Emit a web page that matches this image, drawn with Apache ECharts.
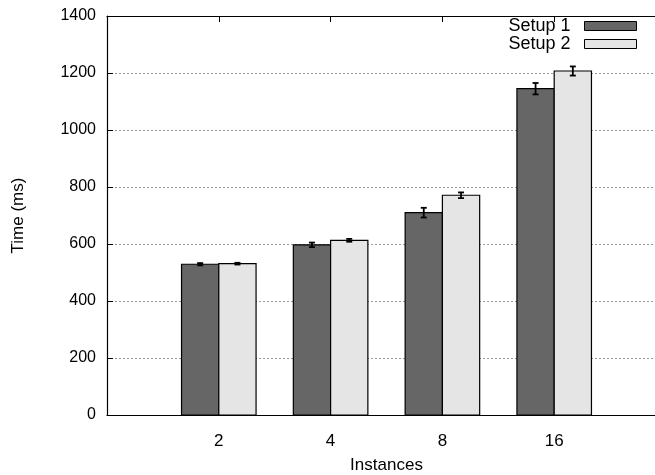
<!DOCTYPE html>
<html>
<head>
<meta charset="utf-8">
<script src="https://cdn.jsdelivr.net/npm/echarts@6/dist/echarts.min.js"></script>
<style>html,body{margin:0;padding:0;background:#fff;overflow:hidden;width:655px;height:475px}#c{width:655px;height:475px;display:block}</style>
</head>
<body>
<div id="c"></div>
<script>
var categories = ['2', '4', '8', '16'];
var setup1 = [529, 597, 710, 1145];
var setup1Err = [4, 8, 17, 20];
var setup2 = [531, 613, 771, 1207];
var setup2Err = [3, 5, 10, 16];
var seriesNames = ['Setup 1', 'Setup 2'];
var yTicks = [0, 200, 400, 600, 800, 1000, 1200, 1400];

var chart = echarts.init(document.getElementById('c'));
var FONT = 'Liberation Sans';
var colors = ['#666666', '#e5e5e5'];
var offsets = [-1/6, 1/6];
var bw = 1/3;

function barSeries(name, vals, k) {
  return {
    name: name,
    type: 'custom',
    itemStyle: { color: colors[k], borderColor: '#000', borderWidth: 1 },
    data: vals.map(function (v, i) { return [i, v]; }),
    renderItem: function (params, api) {
      var x = api.value(0) + offsets[k];
      var v = api.value(1);
      var p0 = api.coord([x - bw / 2, v]);
      var p1 = api.coord([x + bw / 2, 0]);
      return {
        type: 'rect',
        shape: { x: p0[0], y: p0[1], width: p1[0] - p0[0], height: p1[1] - p0[1] },
        style: { fill: colors[k], stroke: '#000', lineWidth: 1.2 }
      };
    },
    z: 2
  };
}
function errSeries(vals, errs, k) {
  return {
    type: 'custom',
    silent: true,
    data: vals.map(function (v, i) { return [i, v, errs[i]]; }),
    renderItem: function (params, api) {
      var x = api.value(0) + offsets[k];
      var v = api.value(1), e = api.value(2);
      var lo = api.coord([x, v - e]);
      var hi = api.coord([x, v + e]);
      var c = 3;
      return {
        type: 'group',
        children: [
          { type: 'line', shape: { x1: lo[0], y1: lo[1], x2: hi[0], y2: hi[1] }, style: { stroke: '#000', lineWidth: 1.8 } },
          { type: 'line', shape: { x1: lo[0] - c, y1: lo[1], x2: lo[0] + c, y2: lo[1] }, style: { stroke: '#000', lineWidth: 1.8 } },
          { type: 'line', shape: { x1: hi[0] - c, y1: hi[1], x2: hi[0] + c, y2: hi[1] }, style: { stroke: '#000', lineWidth: 1.8 } }
        ]
      };
    },
    z: 3
  };
}

chart.setOption({
  backgroundColor: '#fff',
  animation: false,
  textStyle: { fontFamily: FONT },
  grid: { left: 107, top: 16, height: 399, width: 559, outerBoundsMode: 'none', containLabel: false },
  legend: {
    orient: 'vertical',
    right: 18,
    top: 17,
    padding: 0,
    align: 'right',
    itemWidth: 52,
    itemHeight: 9,
    itemGap: 0,
    data: seriesNames.map(function (n, k) {
      return { name: n, icon: 'rect', itemStyle: { color: colors[k], borderColor: '#000', borderWidth: 1 } };
    }),
    textStyle: { fontFamily: FONT, fontSize: 18, lineHeight: 18, color: '#000', padding: [0, 9, 0, 0] }
  },
  xAxis: [{
    type: 'value',
    min: -1, max: 4, interval: 1,
    name: 'Instances',
    nameLocation: 'middle',
    nameGap: 42,
    nameTextStyle: { fontFamily: FONT, fontSize: 17, color: '#000' },
    axisLine: { show: true, onZero: false, lineStyle: { color: '#000', width: 1.2 } },
    axisTick: { show: false },
    splitLine: { show: false },
    axisLabel: {
      fontFamily: FONT, fontSize: 17, color: '#000', margin: 18,
      formatter: function (v) { return categories[v] !== undefined ? categories[v] : ''; }
    }
  }, {
    type: 'value',
    position: 'top',
    min: -1, max: 4, interval: 1,
    axisLine: { show: true, onZero: false, lineStyle: { color: '#000', width: 1.2 } },
    axisTick: { show: true, inside: true, length: 6, lineStyle: { color: '#000' } },
    axisLabel: { show: false },
    splitLine: { show: false }
  }],
  yAxis: {
    type: 'value',
    min: 0, max: 1400, interval: 200,
    name: 'Time (ms)',
    nameLocation: 'middle',
    nameGap: 80,
    nameRotate: 90,
    nameTextStyle: { fontFamily: FONT, fontSize: 17, color: '#000' },
    axisLine: { show: true, onZero: false, lineStyle: { color: '#000', width: 1.2 } },
    axisTick: { show: true, inside: true, length: 6, lineStyle: { color: '#000' } },
    axisLabel: {
      fontFamily: FONT, fontSize: 16, color: '#000', margin: 11,
      formatter: function (v) { return yTicks.indexOf(v) >= 0 ? String(v) : ''; }
    },
    splitLine: { show: true, lineStyle: { color: '#999', type: [2, 2], width: 1 } }
  },
  series: [
    barSeries(seriesNames[0], setup1, 0),
    barSeries(seriesNames[1], setup2, 1),
    errSeries(setup1, setup1Err, 0),
    errSeries(setup2, setup2Err, 1)
  ]
});
</script>
</body>
</html>
